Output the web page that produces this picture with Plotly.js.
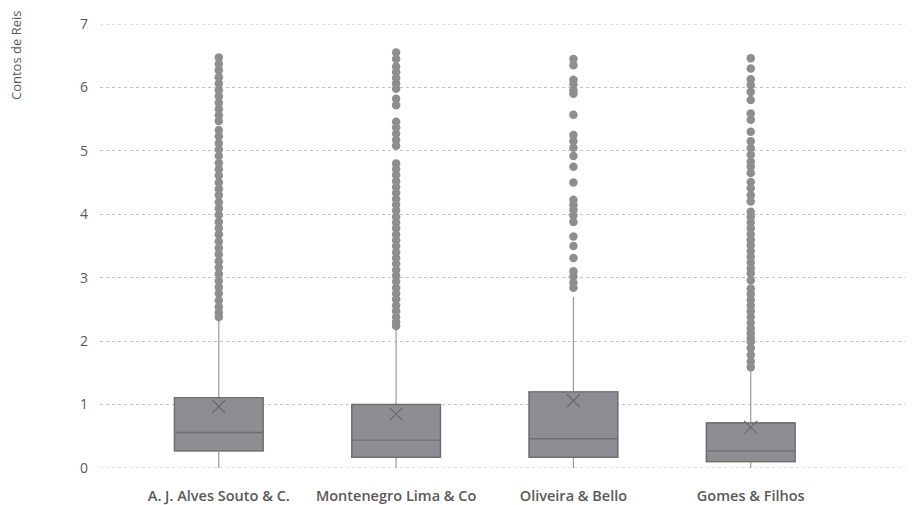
<!DOCTYPE html>
<html>
<head>
<meta charset="utf-8">
<script src="https://cdn.plot.ly/plotly-3.0.1.min.js"></script>
<style>html,body{margin:0;padding:0;background:#fff}#chart{width:916px;height:505px}</style>
</head>
<body>
<div id="chart"></div>
<script>
const categories = ["A. J. Alves Souto & C.", "Montenegro Lima & Co", "Oliveira & Bello", "Gomes & Filhos"];
const lowerFence = [0, 0, 0, 0];
const q1 = [0.27, 0.17, 0.17, 0.10];
const median = [0.56, 0.44, 0.46, 0.27];
const q3 = [1.11, 1.00, 1.20, 0.71];
const upperFence = [2.32, 2.20, 2.70, 1.57];
const means = [0.97, 0.85, 1.06, 0.64];

const outliersAlves = [6.47, 6.37, 6.27, 6.16, 6.06, 5.96, 5.86, 5.76, 5.66, 5.56, 5.47,
  5.33, 5.23, 5.12, 5.02, 4.92, 4.81, 4.71, 4.61, 4.50, 4.40, 4.30, 4.19, 4.09, 3.99, 3.88,
  3.78, 3.68, 3.57, 3.47, 3.37, 3.26, 3.16, 3.06, 2.95, 2.85, 2.75, 2.64, 2.54, 2.45, 2.38];
const outliersMontenegro = [6.55, 6.45, 6.33, 6.24, 6.15, 6.06, 5.98, 5.82, 5.72, 5.46, 5.37,
  5.27, 5.17, 5.08, 4.80, 4.71, 4.62, 4.52, 4.43, 4.34, 4.24, 4.15, 4.06, 3.96, 3.87, 3.78,
  3.68, 3.59, 3.50, 3.40, 3.31, 3.22, 3.12, 3.03, 2.94, 2.84, 2.75, 2.66, 2.56, 2.47, 2.38, 2.30, 2.24];
const outliersOliveira = [6.45, 6.35, 6.12, 6.05, 5.95, 5.90, 5.57, 5.25, 5.15, 5.05, 4.92,
  4.75, 4.50, 4.23, 4.15, 4.07, 3.98, 3.88, 3.65, 3.50, 3.31, 3.10, 3.02, 2.92, 2.84];
const outliersGomes = [6.46, 6.30, 6.13, 6.04, 5.93, 5.80, 5.59, 5.49, 5.30, 5.15, 5.04, 4.94,
  4.83, 4.75, 4.65, 4.51, 4.41, 4.30, 4.20, 4.04, 3.96, 3.87, 3.78, 3.69, 3.60, 3.51, 3.42,
  3.33, 3.24, 3.15, 3.07, 2.96, 2.83, 2.74, 2.65, 2.56, 2.47, 2.38, 2.29, 2.20, 2.12, 2.05,
  1.99, 1.89, 1.78, 1.68, 1.59];
const yTickVals = [0, 1, 2, 3, 4, 5, 6, 7];
const yTitle = "Contos de Reis";

const outlierSets = [outliersAlves, outliersMontenegro, outliersOliveira, outliersGomes];
const ox = [], oy = [];
outlierSets.forEach((arr, i) => arr.forEach(v => { ox.push(categories[i]); oy.push(v); }));

const data = [
  {
    // whiskers (lighter line)
    type: 'box',
    x: categories,
    q1: q1, median: median, q3: q3,
    lowerfence: lowerFence, upperfence: upperFence,
    width: 0.5,
    whiskerwidth: 0,
    fillcolor: '#8e8e92',
    line: {color: '#9a9a9e', width: 1.2},
    boxpoints: false,
    hoverinfo: 'skip',
    showlegend: false
  },
  {
    // boxes (darker outline, no whiskers)
    type: 'box',
    x: categories,
    q1: q1, median: median, q3: q3,
    lowerfence: q1, upperfence: q3,
    width: 0.5,
    whiskerwidth: 0,
    fillcolor: '#8e8e92',
    line: {color: '#6e6e72', width: 1.4},
    boxpoints: false,
    hoverinfo: 'skip',
    showlegend: false
  },
  {
    type: 'scatter', mode: 'markers',
    x: ox, y: oy,
    marker: {color: '#8e8e92', size: 8.5},
    cliponaxis: false,
    showlegend: false
  },
  {
    type: 'scatter', mode: 'markers',
    x: categories, y: means,
    marker: {symbol: 'x-thin-open', size: 13, color: '#6b6b6f', line: {color: '#6b6b6f', width: 1.3}},
    showlegend: false
  }
];

const gridStyle = {color: '#c4c4c4', width: 1, dash: '3px,3px'};
const layout = {
  width: 916, height: 505,
  margin: {l: 100, r: 11, t: 24, b: 37},
  paper_bgcolor: '#ffffff', plot_bgcolor: '#ffffff',
  boxmode: 'overlay',
  font: {family: 'Open Sans, Noto Sans, sans-serif', color: '#595959'},
  xaxis: {
    type: 'category',
    range: [-0.67, 3.87],
    showgrid: false, zeroline: false, showline: false,
    ticks: '',
    ticklabelstandoff: 17,
    tickfont: {size: 14.5, color: '#595959', weight: 600}
  },
  yaxis: {
    range: [0, 7],
    tickvals: yTickVals,
    showgrid: true, gridcolor: '#c4c4c4', gridwidth: 1, griddash: '3px,3px',
    zeroline: false, showline: false, ticks: '',
    ticklabelstandoff: 11,
    tickfont: {size: 14, color: '#595959'}
  },
  shapes: [
    {type: 'line', xref: 'paper', x0: 0, x1: 1, yref: 'y', y0: yTickVals[0], y1: yTickVals[0], line: gridStyle, layer: 'below'},
    {type: 'line', xref: 'paper', x0: 0, x1: 1, yref: 'y', y0: yTickVals[7], y1: yTickVals[7], line: gridStyle, layer: 'below'}
  ],
  annotations: [{
    text: yTitle, xref: 'paper', yref: 'paper',
    x: -0.1043, y: 0.928, xanchor: 'center', yanchor: 'middle',
    textangle: -90, showarrow: false,
    font: {size: 13, color: '#595959'}
  }]
};

Plotly.newPlot('chart', data, layout, {displayModeBar: false, staticPlot: true});
</script>
</body>
</html>
